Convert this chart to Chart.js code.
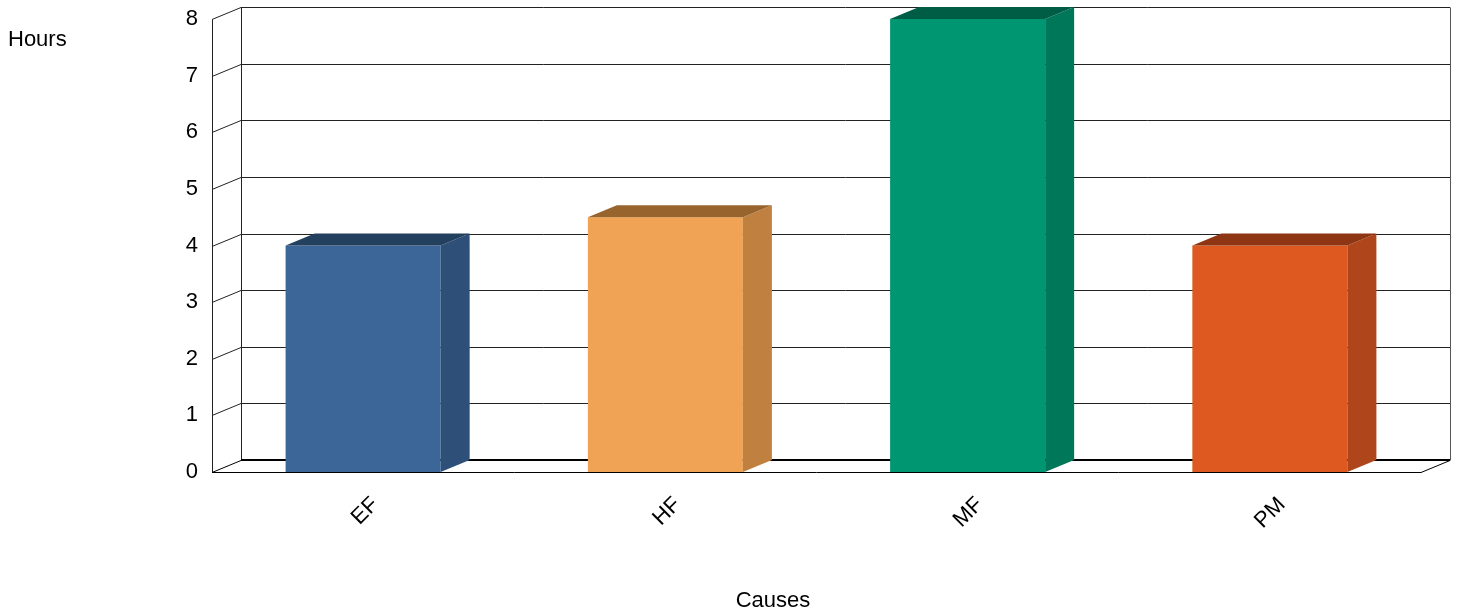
<!DOCTYPE html>
<html>
<head>
<meta charset="utf-8">
<script src="https://cdn.jsdelivr.net/npm/chart.js@4/dist/chart.umd.min.js"></script>
<style>
  html, body { margin: 0; padding: 0; background: #fff; }
  #BarChart { display: block; }
</style>
</head>
<body>
<canvas id="BarChart" width="1460" height="616"></canvas>
<script>
var categories = ['EF', 'HF', 'MF', 'PM'];
var hours = [4, 4.5, 8, 4];
var frontColors = ['#3C6698', '#F0A355', '#009672', '#DD5920'];
var sideColors = ['#2E5078', '#BF8040', '#007759', '#AF461B'];
var topColors = ['#24405F', '#98642E', '#005D45', '#8E3614'];
var yTicks = [0, 1, 2, 3, 4, 5, 6, 7, 8];

// depth of the fake 3d box
var DX = 29, DY = -12;
var FONT = '"Liberation Sans", Arial, sans-serif';

var box3d = {
  id: 'box3d',
  beforeDatasetsDraw: function(chart) {
    var ctx = chart.ctx, a = chart.chartArea, y = chart.scales.y;
    ctx.save();
    ctx.strokeStyle = '#222';
    ctx.lineWidth = 1;
    yTicks.forEach(function(v) {
      var py = Math.round(y.getPixelForValue(v)) + 0.5;
      if (v === 0) return;
      ctx.beginPath();
      ctx.moveTo(a.left, py);
      ctx.lineTo(a.left + DX, py + DY);
      ctx.lineTo(a.right + DX, py + DY);
      ctx.stroke();
    });
    var top = Math.round(y.getPixelForValue(8)) + 0.5;
    var bot = Math.round(y.getPixelForValue(0)) + 0.5;
    // left walls
    ctx.beginPath();
    ctx.moveTo(a.left + 0.5, top); ctx.lineTo(a.left + 0.5, bot);
    ctx.moveTo(a.left + DX + 0.5, top + DY); ctx.lineTo(a.left + DX + 0.5, bot + DY);
    ctx.stroke();
    // right back wall
    ctx.strokeStyle = '#555';
    ctx.beginPath();
    ctx.moveTo(a.right + DX + 0.5, top + DY); ctx.lineTo(a.right + DX + 0.5, bot + DY);
    ctx.stroke();
    // floor
    ctx.strokeStyle = '#000';
    ctx.beginPath();
    ctx.moveTo(a.left, bot); ctx.lineTo(a.left + DX, bot + DY);
    ctx.moveTo(a.left, bot); ctx.lineTo(a.right, bot);
    ctx.lineTo(a.right + DX, bot + DY);
    ctx.stroke();
    ctx.lineWidth = 2;
    ctx.beginPath();
    ctx.moveTo(a.left + DX, bot + DY - 0.5); ctx.lineTo(a.right + DX, bot + DY - 0.5);
    ctx.stroke();
    ctx.restore();
  },
  afterDatasetsDraw: function(chart) {
    var ctx = chart.ctx;
    var meta = chart.getDatasetMeta(0);
    ctx.save();
    meta.data.forEach(function(bar, i) {
      var p = bar.getProps(['x', 'y', 'base', 'width'], true);
      var l = p.x - p.width / 2, r = p.x + p.width / 2;
      ctx.fillStyle = sideColors[i];
      ctx.beginPath();
      ctx.moveTo(r, p.y); ctx.lineTo(r + DX, p.y + DY);
      ctx.lineTo(r + DX, p.base + DY); ctx.lineTo(r, p.base);
      ctx.closePath(); ctx.fill();
      ctx.fillStyle = topColors[i];
      ctx.beginPath();
      ctx.moveTo(l, p.y); ctx.lineTo(l + DX, p.y + DY);
      ctx.lineTo(r + DX, p.y + DY); ctx.lineTo(r, p.y);
      ctx.closePath(); ctx.fill();
    });
    ctx.restore();
  },
  afterDraw: function(chart) {
    var ctx = chart.ctx;
    ctx.save();
    ctx.fillStyle = '#000';
    ctx.font = '22px ' + FONT;
    ctx.textBaseline = 'middle';
    ctx.textAlign = 'left';
    ctx.fillText('Hours', 8, 40);
    ctx.textAlign = 'center';
    ctx.fillText('Causes', 773, 601);
    ctx.restore();
  }
};

new Chart(document.getElementById('BarChart').getContext('2d'), {
  type: 'bar',
  data: {
    labels: categories,
    datasets: [{
      label: 'Hours',
      data: hours,
      backgroundColor: frontColors,
      borderWidth: 0,
      barPercentage: 0.513,
      categoryPercentage: 1
    }]
  },
  options: {
    responsive: false,
    animation: false,
    devicePixelRatio: 1,
    layout: { padding: { left: 0, right: 39, top: 19, bottom: 0 } },
    plugins: { legend: { display: false }, tooltip: { enabled: false } },
    scales: {
      x: {
        grid: { display: false, drawTicks: false },
        border: { display: false },
        afterFit: function(s) {
          s.height = 144; s.paddingLeft = 0; s.paddingRight = 0;
        },
        ticks: {
          color: '#000', font: { family: FONT, size: 22 },
          minRotation: 45, maxRotation: 45, padding: 20, labelOffset: 12
        }
      },
      y: {
        min: 0, max: 8,
        grid: { display: false, drawTicks: false },
        border: { display: false },
        afterFit: function(s) {
          s.width = 212; s.paddingTop = 0; s.paddingBottom = 0;
        },
        ticks: {
          stepSize: 1, color: '#000', padding: 14,
          font: { family: FONT, size: 22 }
        }
      }
    }
  },
  plugins: [box3d]
});
</script>
</body>
</html>
